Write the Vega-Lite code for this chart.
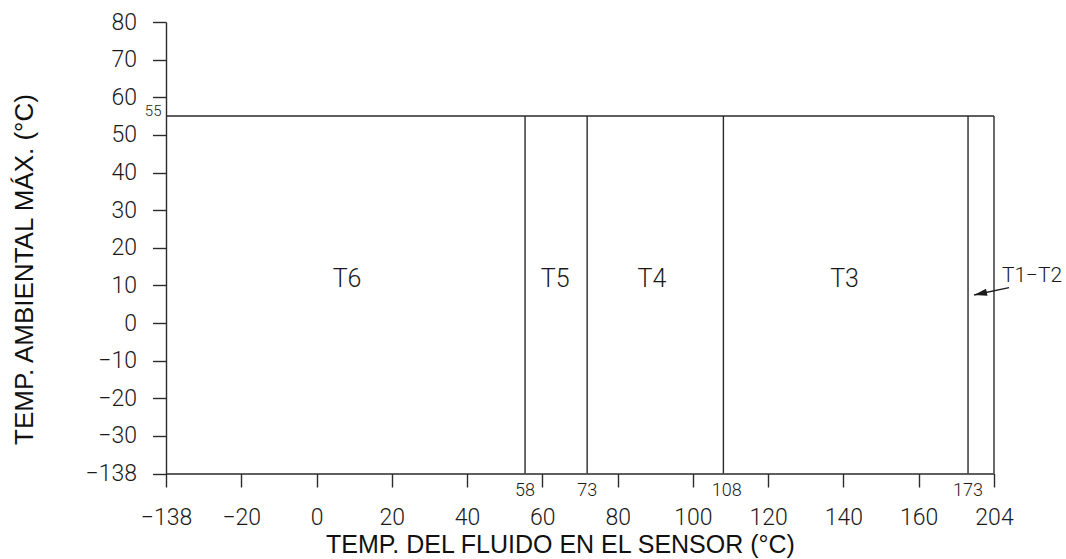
{
  "$schema": "https://vega.github.io/schema/vega-lite/v6.json",
  "width": 828,
  "height": 451.5,
  "autosize": {"type": "none"},
  "padding": {"left": 166, "top": 22, "right": 72, "bottom": 85.5},
  "background": "white",
  "config": {
    "view": {"stroke": null},
    "axis": {
      "grid": false,
      "domainColor": "#2a2a2a",
      "domainWidth": 1.4,
      "tickColor": "#2a2a2a",
      "tickWidth": 1.4,
      "tickSize": 13.5,
      "labelFont": "Roboto",
      "labelFontWeight": 300,
      "labelFontSize": 23,
      "labelColor": "#1a1a1a",
      "labelFlush": false,
      "labelOverlap": false,
      "titleFont": "Liberation Sans",
      "titleFontWeight": "normal",
      "titleColor": "#111111"
    }
  },
  "datasets": {
    "segments": [
      {"x": -40, "y": 55, "x2": 180, "y2": 55},
      {"x": 180, "y": -40, "x2": 180, "y2": 55},
      {"x": 55.4, "y": -40, "x2": 55.4, "y2": 55},
      {"x": 71.9, "y": -40, "x2": 71.9, "y2": 55},
      {"x": 108.1, "y": -40, "x2": 108.1, "y2": 55},
      {"x": 173.1, "y": -40, "x2": 173.1, "y2": 55}
    ],
    "boundaryLabels": [
      {"x": 55.4, "y": -40, "label": "58"},
      {"x": 71.9, "y": -40, "label": "73"},
      {"x": 109, "y": -40, "label": "108"},
      {"x": 173.1, "y": -40, "label": "173"}
    ],
    "limitLabel": [
      {"x": -40, "y": 55, "label": "55"}
    ],
    "zones": [
      {"x": 8.1, "y": 11.8, "label": "T6"},
      {"x": 63.4, "y": 11.8, "label": "T5"},
      {"x": 89.1, "y": 11.8, "label": "T4"},
      {"x": 140.3, "y": 11.8, "label": "T3"}
    ],
    "callout": [
      {"x": 182.1, "y": 12.5, "label": "T1\u2212T2"}
    ],
    "arrow": [
      {"x": 184, "y": 9.4, "x2": 174.7, "y2": 7.44}
    ],
    "arrowHead": [
      {"x": 174.7, "y": 7.44}
    ]
  },
  "encoding": {
    "x": {
      "field": "x",
      "type": "quantitative",
      "scale": {"domain": [-40, 180], "nice": false, "zero": false},
      "axis": {
        "values": [-40, -20, 0, 20, 40, 60, 80, 100, 120, 140, 160, 180],
        "labelExpr": "datum.value == -40 ? '\u2212138' : (datum.value == 180 ? '204' : datum.label)",
        "labelPadding": 19,
        "title": "TEMP. DEL FLUIDO EN EL SENSOR (\u00b0C)",
        "titleFontSize": 25,
        "titleX": 394,
        "titleY": 78.5,
        "titleBaseline": "alphabetic",
        "titleAnchor": "middle"
      }
    },
    "y": {
      "field": "y",
      "type": "quantitative",
      "scale": {"domain": [-40, 80], "nice": false, "zero": false},
      "axis": {
        "values": [-40, -30, -20, -10, 0, 10, 20, 30, 40, 50, 60, 70, 80],
        "labelExpr": "datum.value == -40 ? '\u2212138' : datum.label",
        "labelPadding": 16,
        "title": "TEMP. AMBIENTAL M\u00c1X. (\u00b0C)",
        "titleFontSize": 26,
        "titleX": -133.3,
        "titleY": 247,
        "titleBaseline": "alphabetic",
        "titleAnchor": "middle",
        "titleAngle": -90
      }
    }
  },
  "layer": [
    {
      "data": {"name": "segments"},
      "mark": {"type": "rule", "color": "#2a2a2a", "strokeWidth": 1.4},
      "encoding": {
        "x2": {"field": "x2"},
        "y2": {"field": "y2"}
      }
    },
    {
      "data": {"name": "boundaryLabels"},
      "mark": {"type": "text", "font": "Roboto", "fontWeight": 300, "fontSize": 18, "baseline": "top", "align": "center", "dy": 8, "color": "#1a1a1a"},
      "encoding": {"text": {"field": "label"}}
    },
    {
      "data": {"name": "limitLabel"},
      "mark": {"type": "text", "font": "Roboto", "fontWeight": 300, "fontSize": 15, "baseline": "alphabetic", "align": "right", "dx": -4.5, "color": "#1a1a1a"},
      "encoding": {"text": {"field": "label"}}
    },
    {
      "data": {"name": "zones"},
      "mark": {"type": "text", "font": "Roboto", "fontWeight": 300, "fontSize": 25, "baseline": "middle", "align": "center", "color": "#1a1a1a"},
      "encoding": {"text": {"field": "label"}}
    },
    {
      "data": {"name": "callout"},
      "mark": {"type": "text", "font": "Roboto", "fontWeight": 300, "fontSize": 21, "baseline": "middle", "align": "left", "color": "#1a1a1a"},
      "encoding": {"text": {"field": "label"}}
    },
    {
      "data": {"name": "arrow"},
      "mark": {"type": "rule", "color": "#1a1a1a", "strokeWidth": 1.3},
      "encoding": {
        "x2": {"field": "x2"},
        "y2": {"field": "y2"}
      }
    },
    {
      "data": {"name": "arrowHead"},
      "mark": {"type": "point", "filled": true, "color": "#1a1a1a", "opacity": 1, "shape": "M 0 0 L 1 -0.28 L 1 0.28 Z", "size": 676, "angle": -12}
    }
  ]
}
